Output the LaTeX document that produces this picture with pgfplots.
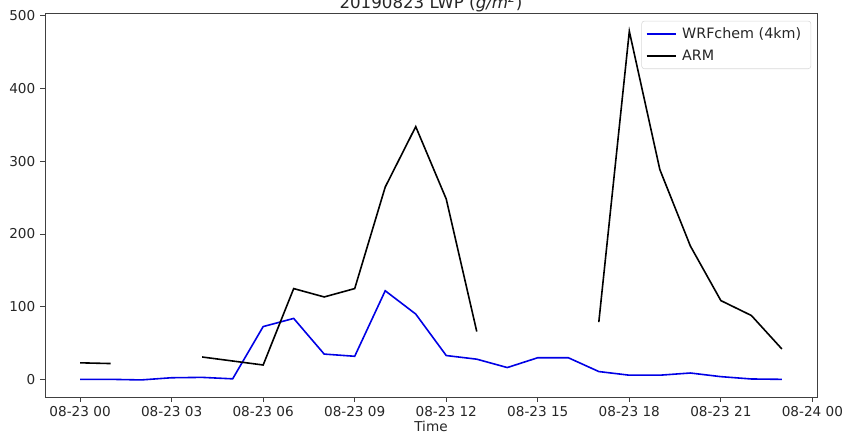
\documentclass[border=0pt]{standalone}
\usepackage{pgfplots}
\pgfplotsset{compat=1.18}
\usepackage{fontspec}
\setmainfont{DejaVu Sans}
\usetikzlibrary{calc}

% Hourly liquid water path, 2019-08-23 (hours since 00 UTC)
\pgfplotstableread{
h   wrf    arm
0   0.3    23
1   0.3    22
2   -0.5   nan
3   2.5    nan
4   3.0    31
5   1.0    25.5
6   72.8   20
7   84     125
8   35     113.5
9   32     125
10  122    264.5
11  90     347.5
12  33     248
13  28     66
14  16.5   nan
15  30     nan
16  30     nan
17  11     79
18  6      478.5
19  6      288.5
20  9      183.5
21  4      108.5
22  0.8    88
23  0.3    42
}\lwp

\begin{document}
\begin{tikzpicture}
\begin{axis}[
  name=main,
  scale only axis,
  width=555.8pt, height=275.8pt,
  xmin=-1.15, xmax=24.15,
  ymin=-23.9, ymax=502.4,
  xtick={0,3,...,24},
  xticklabels={08-23 00,08-23 03,08-23 06,08-23 09,08-23 12,08-23 15,08-23 18,08-23 21,08-24 00},
  ytick={0,100,...,500},
  tick align=outside,
  tick pos=left,
  major tick length=3.5pt,
  tick style={black!75, line width=0.6pt},
  axis line style={black!75, line width=0.6pt},
  /pgf/number format/assume math mode=true,
  ticklabel style={font=\fontsize{9.8}{12}\selectfont, black!85},
  xlabel={Time},
  xlabel style={font=\fontsize{9.8}{12}\selectfont, black!85, yshift=4pt},
  title={20190823 LWP (\textit{g/m}\textsuperscript{\textit{2}})},
  title style={anchor=base, yshift=-2pt, font=\fontsize{12}{14}\selectfont, black!85},
  unbounded coords=jump,
  legend cell align=left,
  legend style={
    at={(rel axis cs:0.9925,0.982)}, anchor=north east,
    draw=black!15, rounded corners=2pt, fill=white, fill opacity=0.8, text opacity=1,
    font=\fontsize{10.3}{12}\selectfont, text=black!85,
    nodes={font=\fontsize{10.3}{12}\selectfont, inner xsep=4pt},
    inner xsep=3pt, inner ysep=2.5pt, row sep=3pt,
  },
  legend image code/.code={\draw[#1] (0pt,0pt) -- (21pt,0pt);},
]
\addplot[blue!90!black, line width=1.15pt] table[x=h, y=wrf] {\lwp};
\addlegendentry{WRFchem (4km)}
\addplot[black, line width=1.15pt] table[x=h, y=arm] {\lwp};
\addlegendentry{ARM}
\end{axis}
\pgfresetboundingbox
\path[use as bounding box] ($(main.south west)+(-32.4pt,-26.6pt)$) rectangle ($(main.north east)+(20.9pt,10pt)$);
\end{tikzpicture}
\end{document}
